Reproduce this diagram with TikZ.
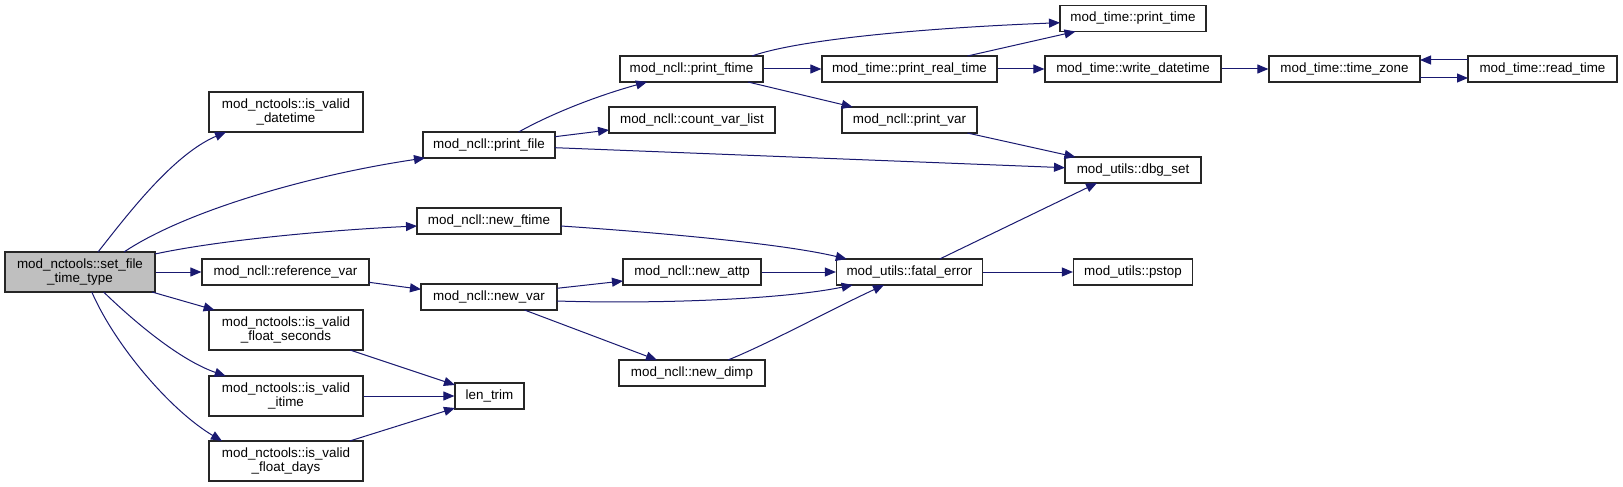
\documentclass[tikz,border=0pt]{standalone}
\usepackage{fontspec}
\setmainfont{Liberation Sans}
\usetikzlibrary{arrows.meta,calc}
\definecolor{edgeblue}{HTML}{191970}
\definecolor{boxgray}{HTML}{BFBFBF}
\begin{document}
\begin{tikzpicture}[x=1pt,y=-1pt,
  fn/.style={draw=black!85,line width=1.2pt,inner sep=0pt,align=center,minimum height=26pt,
    font=\fontsize{13.4}{14.7}\selectfont},
  fn2/.style={fn,minimum height=40pt,minimum width=154pt},
  call/.style={draw=edgeblue,line width=1pt,-{Triangle[length=11pt,width=9pt]},fill=none},
]
\fill[white] (0,0) rectangle (1623,487);
\useasboundingbox (0,0) rectangle (1623,487);

% nodes
\node[fn,minimum width=150pt,minimum height=40pt,fill=boxgray] (setf) at (80,272) {mod\_nctools::set\_file\\\_time\_type};
\node[fn2] (dt) at (286,112) {mod\_nctools::is\_valid\\\_datetime};
\node[fn,minimum width=132pt] (pfile) at (489,145) {mod\_ncll::print\_file};
\node[fn,minimum width=144pt] (nftime) at (489,221) {mod\_ncll::new\_ftime};
\node[fn,minimum width=167pt] (refvar) at (285.5,272) {mod\_ncll::reference\_var};
\node[fn,minimum width=136pt] (nvar) at (489,297) {mod\_ncll::new\_var};
\node[fn2] (fsec) at (286,330) {mod\_nctools::is\_valid\\\_float\_seconds};
\node[fn2] (itime) at (286,396) {mod\_nctools::is\_valid\\\_itime};
\node[fn2] (fdays) at (286,461) {mod\_nctools::is\_valid\\\_float\_days};
\node[fn,minimum width=69pt] (lentrim) at (489.5,396) {len\_trim};
\node[fn,minimum width=143pt] (pftime) at (691.5,69) {mod\_ncll::print\_ftime};
\node[fn,minimum width=166pt] (cvl) at (692,120) {mod\_ncll::count\_var\_list};
\node[fn,minimum width=175pt] (prt) at (909.5,69) {mod\_time::print\_real\_time};
\node[fn,minimum width=135pt] (pvar) at (909.5,120) {mod\_ncll::print\_var};
\node[fn,minimum width=146pt] (ptime) at (1133,18.5) {mod\_time::print\_time};
\node[fn,minimum width=176pt] (wdt) at (1133,69) {mod\_time::write\_datetime};
\node[fn,minimum width=151pt] (tz) at (1344.5,69) {mod\_time::time\_zone};
\node[fn,minimum width=149pt] (rt) at (1542.5,69) {mod\_time::read\_time};
\node[fn,minimum width=136pt] (dbg) at (1133,170) {mod\_utils::dbg\_set};
\node[fn,minimum width=146pt] (fe) at (909.5,272) {mod\_utils::fatal\_error};
\node[fn,minimum width=119pt] (pstop) at (1133,272) {mod\_utils::pstop};
\node[fn,minimum width=138pt] (nattp) at (692,272) {mod\_ncll::new\_attp};
\node[fn,minimum width=146pt] (ndimp) at (692,373) {mod\_ncll::new\_dimp};

% edges from set_file_time_type
\draw[call] ($(setf)+(18,-20)$) .. controls +(27,-34) and +(-54,23) .. ($(dt)+(-60,20)$);
\draw[call] ($(setf)+(44,-20)$) .. controls +(61,-41) and +(-115,17) .. ($(pfile)+(-64,13)$);
\draw[call] ($(setf)+(75,-18)$) .. controls +(65,-14) and +(-87,4) .. ($(nftime)+(-72,5)$);
\draw[call] (setf.east) -- (refvar.west);
\draw[call] ($(setf)+(72,20)$) -- ($(fsec)+(-71.4,-20)$);
\draw[call] ($(setf)+(23.6,20)$) .. controls +(31,30) and +(-46,-16) .. ($(itime)+(-60.3,-20)$);
\draw[call] ($(setf)+(11.8,20)$) .. controls +(23,53) and +(-52,-31) .. ($(fdays)+(-64,-20)$);

\draw[call] ($(refvar)+(83.5,10.3)$) -- ($(nvar)+(-68,-7.7)$);
\draw[call] ($(fsec)+(64,20)$) -- ($(lentrim)+(-34.5,-11)$);
\draw[call] (itime.east) -- (lentrim.west);
\draw[call] ($(fdays)+(63.7,-20)$) -- ($(lentrim)+(-34.5,12)$);

% print_file
\draw[call] ($(pfile)+(29.6,-13)$) .. controls +(36,-20) and +(-47,13) .. ($(pftime)+(-44.5,13)$);
\draw[call] ($(pfile)+(66,-8.3)$) -- ($(cvl)+(-83,10)$);
\draw[call] ($(pfile)+(66,2.7)$) -- ($(dbg)+(-68,-2.3)$);

% print_ftime
\draw[call] (pftime.east) -- (prt.west);
\draw[call] ($(pftime)+(60.5,-13)$) .. controls +(48,-17) and +(-130,5) .. ($(ptime)+(-73,4.2)$);
\draw[call] ($(pftime)+(56.5,13)$) -- ($(pvar)+(-56.8,-13)$);

% print_real_time
\draw[call] ($(prt)+(57.9,-13)$) -- ($(ptime)+(-57.5,13)$);
\draw[call] (prt.east) -- (wdt.west);
\draw[call] (wdt.east) -- (tz.west);
\draw[call] ($(tz)+(75.5,9)$) -- ($(rt)+(-74.5,9)$);
\draw[call] ($(rt)+(-74.5,-9)$) -- ($(tz)+(75.5,-9)$);
\draw[call] ($(pvar)+(57.9,13)$) -- ($(dbg)+(-57.5,-13)$);

% fatal_error
\draw[call] ($(nftime)+(72,5)$) .. controls +(89,6) and +(-67,-16) .. ($(fe)+(-62.7,-13)$);
\draw[call] ($(fe)+(30.2,-13)$) -- ($(dbg)+(-36,13)$);
\draw[call] (fe.east) -- (pstop.west);
\draw[call] ($(nvar)+(68,-8.7)$) -- ($(nattp)+(-69,9)$);
\draw[call] ($(nvar)+(68,4)$) .. controls +(93,3) and +(-73,15) .. ($(fe)+(-56.8,13)$);
\draw[call] ($(nvar)+(35.5,13)$) -- ($(ndimp)+(-35,-13)$);
\draw[call] (nattp.east) -- (fe.west);
\draw[call] ($(ndimp)+(36,-13)$) .. controls +(42,-17) and +(-54,25) .. ($(fe)+(-25.5,13)$);
\end{tikzpicture}
\end{document}
